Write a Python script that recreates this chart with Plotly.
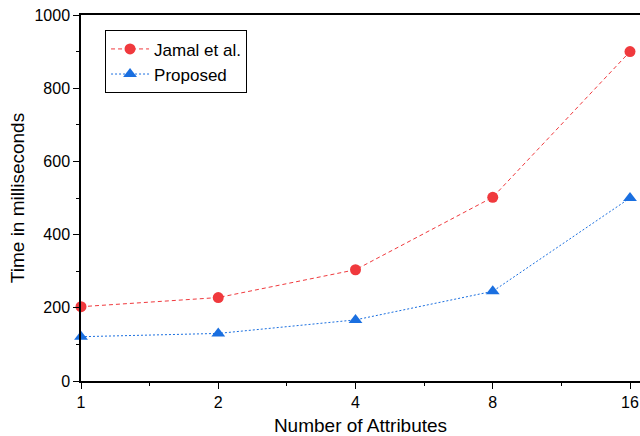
import plotly.graph_objects as go
import math

attributes = [1, 2, 4, 8, 16]
jamal = [203, 228, 304, 502, 900]
proposed = [121, 130, 167, 245, 500]
tick_labels = ["1", "2", "4", "8", "16"]

RED = "#f0393d"
BLUE = "#1a6fe0"
FONT = "Liberation Sans, Arial, sans-serif"

fig = go.Figure()
fig.add_trace(go.Scatter(
    x=attributes, y=jamal, name="Jamal et al.", mode="lines+markers",
    line=dict(color=RED, width=1, dash="4px,3px"),
    marker=dict(symbol="circle", size=11, color=RED),
    cliponaxis=False,
))
fig.add_trace(go.Scatter(
    x=attributes, y=proposed, name="Proposed", mode="lines+markers",
    line=dict(color=BLUE, width=1, dash="2px,2px"),
    marker=dict(symbol="triangle-up", size=12, color=BLUE),
    cliponaxis=False,
))

minor_x = [math.sqrt(attributes[i] * attributes[i + 1]) for i in range(len(attributes) - 1)]

fig.update_layout(
    width=640, height=436,
    margin=dict(l=81, r=0, t=15, b=55, autoexpand=False),
    paper_bgcolor="white", plot_bgcolor="white",
    font=dict(family=FONT, color="black", size=16),
    showlegend=True,
    legend=dict(
        x=0.043, y=0.958, xanchor="left", yanchor="top",
        bordercolor="black", borderwidth=1, bgcolor="white",
        font=dict(size=17, family=FONT), tracegroupgap=0,
        itemwidth=38,
    ),
    xaxis=dict(
        type="log",
        range=[0, math.log10(16) * 559 / 549],
        tickvals=attributes, ticktext=tick_labels,
        ticks="outside", ticklen=6, tickwidth=1.3, tickcolor="black",
        showline=True, linecolor="black", linewidth=1.5, mirror=True,
        showgrid=False, zeroline=False,
        tickfont=dict(size=16),
        minor=dict(tickvals=minor_x, ticks="outside", ticklen=3, tickcolor="black", tickwidth=1.3, showgrid=False),
        title=dict(text="Number of Attributes", font=dict(size=19), standoff=12),
    ),
    yaxis=dict(
        range=[0, 1000], dtick=200,
        ticks="outside", ticklen=6, tickwidth=1.3, tickcolor="black",
        showline=True, linecolor="black", linewidth=1.5, mirror=True,
        showgrid=False, zeroline=False,
        tickfont=dict(size=16),
        minor=dict(dtick=100, ticks="outside", ticklen=3, tickcolor="black", tickwidth=1.3, showgrid=False),
        title=dict(text="Time in milliseconds", font=dict(size=19), standoff=5),
    ),
)

fig.write_html(
    "out.html",
    config={"displayModeBar": False},
    post_script="document.body.style.margin='0';document.body.style.padding='0';",
)
